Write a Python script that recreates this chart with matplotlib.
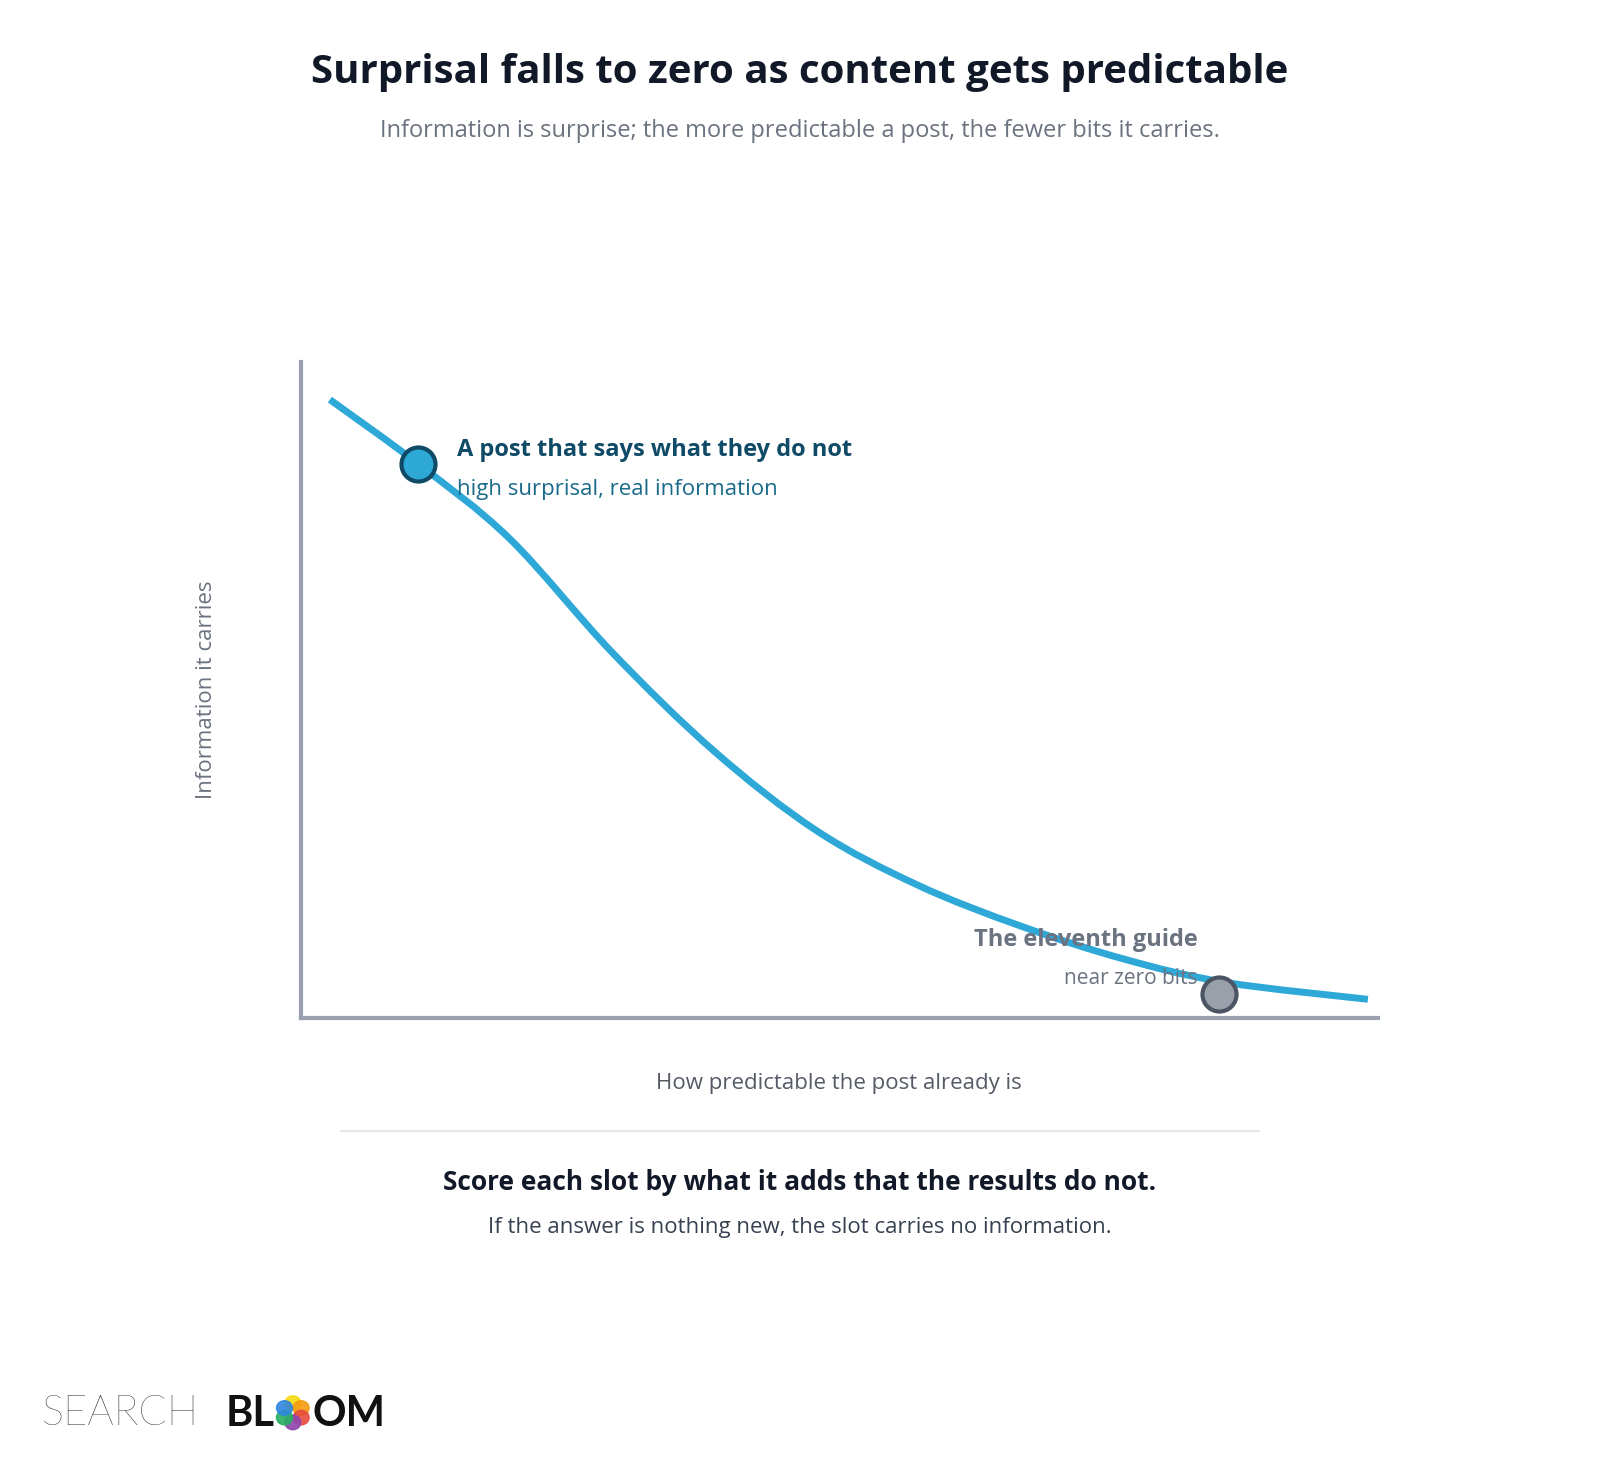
import numpy as np
import matplotlib.pyplot as plt
from matplotlib.path import Path
from matplotlib.patches import PathPatch

plt.rcParams['font.family'] = ['Open Sans', 'Noto Sans', 'DejaVu Sans']

# curve (predictability vs information)
pred = [2.7, 10.9, 19.4, 28.9, 38.4, 47.9, 57.3, 66.8, 76.3, 85.8, 99.1]
info = [94.2, 84.4, 73.0, 55.7, 40.6, 28.5, 20.2, 14.0, 9.0, 5.4, 2.8]
hi_pt = (10.9, 84.4)
lo_pt = (85.3, 3.6)

fig = plt.figure(figsize=(16, 14.58), dpi=100)
ax = fig.add_axes([0.188, 0.302, 0.673, 0.45])

# smooth line through the read points (Catmull-Rom as cubic Bezier segments)
p = np.column_stack([pred, info])
verts = [p[0]]
codes = [Path.MOVETO]
for i in range(len(p) - 1):
    p0 = p[max(i - 1, 0)]
    p1, p2 = p[i], p[i + 1]
    p3 = p[min(i + 2, len(p) - 1)]
    verts += [p1 + (p2 - p0) / 6, p2 - (p3 - p1) / 6, p2]
    codes += [Path.CURVE4] * 3
ax.add_patch(PathPatch(Path(verts, codes), fill=False, edgecolor='#2ea8d6', lw=5,
                       capstyle='butt', zorder=2))

ax.scatter(*hi_pt, s=600, color='#2ea8d6', edgecolor='#0f4a66', linewidth=3, zorder=3)
ax.scatter(*lo_pt, s=600, color='#9aa0aa', edgecolor='#4b5563', linewidth=3, zorder=3)
ax.set_xlim(0, 100)
ax.set_ylim(0, 100)
ax.set_xticks([])
ax.set_yticks([])
for s in ['top', 'right']:
    ax.spines[s].set_visible(False)
for s in ['left', 'bottom']:
    ax.spines[s].set_color('#9aa0b0')
    ax.spines[s].set_linewidth(3)

ax.text(14.5, 86.5, 'A post that says what they do not', fontsize=17, weight='bold',
        color='#0f4a66', va='center')
ax.text(14.5, 80.5, 'high surprisal, real information', fontsize=16, color='#1a6a8a', va='center')
ax.text(83.3, 11.8, 'The eleventh guide', fontsize=17, weight='bold', color='#6b7280',
        ha='right', va='center')
ax.text(83.3, 6.0, 'near zero bits', fontsize=15, color='#6b7280', ha='right', va='center')

ax.set_xlabel('How predictable the post already is', fontsize=16, color='#555b66', labelpad=40)
ax.set_ylabel('Information it carries', fontsize=16, color='#6b7280', labelpad=60)

fig.text(0.5, 0.950, 'Surprisal falls to zero as content gets predictable', ha='center',
         va='center', fontsize=29, weight='bold', color='#111827')
fig.text(0.5, 0.910, 'Information is surprise; the more predictable a post, the fewer bits it carries.',
         ha='center', va='center', fontsize=17, color='#6b7280')
fig.add_artist(plt.Line2D([0.213, 0.787], [0.224, 0.224], color='#e5e7eb', lw=1.5))
fig.text(0.5, 0.189, 'Score each slot by what it adds that the results do not.', ha='center',
         va='center', fontsize=19, weight='bold', color='#111827')
fig.text(0.5, 0.158, 'If the answer is nothing new, the slot carries no information.', ha='center',
         va='center', fontsize=16, color='#374151')

# logo
fig.text(0.026, 0.030, 'SEARCH', fontsize=30, color='#111111', weight='light', va='center',
         family=['Lato', 'DejaVu Sans'])
fig.text(0.141, 0.030, 'BL', fontsize=30, color='#111111', weight='bold', va='center',
         family=['Lato', 'DejaVu Sans'])
petals = ['#f5d90a', '#f39c12', '#e74c3c', '#8e44ad', '#27ae60', '#2e86de']
for i, c in enumerate(petals):
    a = np.pi / 2 - i * np.pi / 3
    fig.patches.append(plt.Circle((0.183 + 0.006 * np.cos(a), 0.031 + 0.0066 * np.sin(a)), 0.005,
                                  color=c, transform=fig.transFigure, alpha=0.9))
fig.text(0.195, 0.030, 'OM', fontsize=30, color='#111111', weight='bold', va='center',
         family=['Lato', 'DejaVu Sans'])

fig.savefig('out.png', dpi=100, facecolor='white')
